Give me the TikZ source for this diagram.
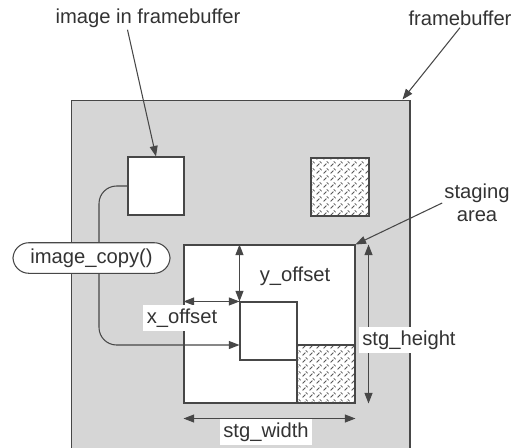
\documentclass[tikz,border=0pt]{standalone}
\usepackage{fontspec}
\setmainfont{Liberation Sans}
\usetikzlibrary{arrows.meta, positioning, calc, patterns.meta}

\colorlet{linec}{black!72}
\tikzdeclarepattern{name=dashhatch, type=uncolored,
  bottom left={(0pt,0pt)}, top right={(4pt,4pt)}, tile size={(4pt,4pt)},
  code={\draw[line width=0.55pt] (0.4pt,0.4pt) -- (2.2pt,2.2pt);
        \draw[line width=0.55pt] (2.4pt,3.6pt) -- (3.6pt,2.4pt);}}

\begin{document}
\begin{tikzpicture}[x=0.02cm, y=-0.02cm, font=\fontsize{11.5}{13}\selectfont,
    line width=0.6pt, draw=linec,
    fbbox/.style={draw=linec, fill=black!16, inner sep=0pt},
    box/.style={draw=linec, fill=white, inner sep=0pt, minimum size=1.16cm},
    hatchbox/.style={draw=linec, inner sep=0pt, minimum size=1.16cm,
      preaction={fill=white}, pattern=dashhatch, pattern color=black!65},
    lbl/.style={text=black!80, inner sep=1pt},
    wlbl/.style={lbl, fill=white, inner sep=2pt},
    arr/.style={-{Triangle[length=6pt,width=4.5pt]}},
    darr/.style={{Triangle[length=6pt,width=4.5pt]}-{Triangle[length=6pt,width=4.5pt]}}]
  \useasboundingbox (0,0) rectangle (520,447);

  \node[fbbox, minimum width=6.78cm, minimum height=6.98cm] (fb) at (240.5,274.5) {};
  \node[box, minimum width=1.12cm] (img) at (156,186) {};
  \node[hatchbox] (hatch1) at (340,187) {};
  \node[box, minimum width=3.42cm, minimum height=3.16cm] (stg) at (269.5,324) {};
  \node[box, minimum width=1.14cm] (copy) at (268.5,331) {};
  \node[hatchbox] (hatch2) at (326,374) {};

  \node[lbl] (lblimg) at (148,18) {image in framebuffer};
  \node[lbl] (lblfb) at (460,18) {framebuffer};
  \node[lbl, align=center] (lblstg) at (477,203) {staging\\area};

  \draw[arr, draw=linec] (lblimg.south -| img.west) -- (img.north);
  \draw[arr, draw=linec] (lblfb.south) -- ($(fb.north east)+(-8,0)$);
  \draw[arr, draw=linec] (lblstg.west) -- (stg.north east);

  \draw[darr, draw=linec] (copy.north west) -- (copy.north west |- stg.north);
  \draw[darr, draw=linec] (stg.west |- copy.north west) -- (copy.north west);
  \draw[darr, draw=linec] ($(stg.north east)+(13,0)$) -- ($(stg.south east)+(13,0)$);
  \draw[darr, draw=linec] ($(stg.south west)+(0,15)$) -- ($(stg.south east)+(0,15)$);

  \coordinate (bend) at (99,345);
  \draw[arr, draw=linec, rounded corners=10pt] (img.west) -| (bend) -- (bend -| copy.west);
  \node[draw=linec, fill=white, rounded corners=9pt, minimum width=3.14cm,
    minimum height=0.6cm, text=black!80] (imgcopy) at (91.5,258) {image\_copy()};

  \node[wlbl] (yoff) at (295,276) {y\_offset};
  \node[wlbl] (xoff) at (182,318) {x\_offset};
  \node[wlbl] (hgt) at (409,340) {stg\_height};
  \node[wlbl] (wid) at (266,432) {stg\_width};
\end{tikzpicture}
\end{document}
